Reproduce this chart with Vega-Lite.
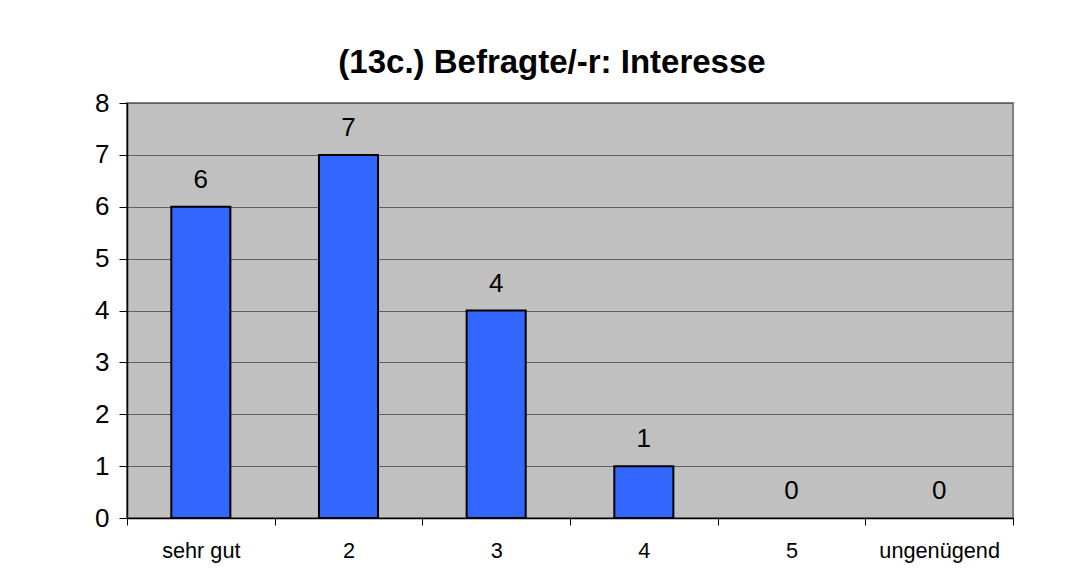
{
  "$schema": "https://vega.github.io/schema/vega-lite/v6.json",
  "autosize": {"type": "none"},
  "padding": {"left": 127, "top": 103, "right": 71, "bottom": 62},
  "width": 886,
  "height": 415,
  "background": "white",
  "title": {
    "text": "(13c.) Befragte/-r: Interesse",
    "font": "Liberation Sans",
    "fontSize": 33,
    "fontWeight": "bold",
    "color": "black",
    "anchor": "middle",
    "frame": "group",
    "dx": -18,
    "baseline": "alphabetic",
    "offset": -16
  },
  "data": {
    "values": [
      {"note": "sehr gut", "anzahl": 6},
      {"note": "2", "anzahl": 7},
      {"note": "3", "anzahl": 4},
      {"note": "4", "anzahl": 1},
      {"note": "5", "anzahl": 0},
      {"note": "ungenügend", "anzahl": 0}
    ]
  },
  "encoding": {
    "x": {
      "field": "note",
      "type": "nominal",
      "sort": null,
      "title": null,
      "scale": {"paddingInner": 0, "paddingOuter": 0},
      "axis": {
        "labelAngle": 0,
        "labelFont": "Liberation Sans",
        "labelFontSize": 21.7,
        "labelColor": "black",
        "labelPadding": 15,
        "tickBand": "extent",
        "tickSize": 7,
        "tickColor": "black",
        "domainColor": "black",
        "domainWidth": 1.5,
        "grid": false
      }
    },
    "y": {
      "field": "anzahl",
      "type": "quantitative",
      "title": null,
      "scale": {"domain": [0, 8], "nice": false},
      "axis": {
        "values": [0, 1, 2, 3, 4, 5, 6, 7, 8],
        "labelFont": "Liberation Sans",
        "labelFontSize": 26,
        "labelColor": "black",
        "labelPadding": 10,
        "tickSize": 8,
        "tickColor": "black",
        "domainColor": "black",
        "domainWidth": 1.5,
        "grid": true,
        "gridColor": "#606060",
        "gridWidth": 1.2,
        "gridOpacity": 1
      }
    }
  },
  "layer": [
    {
      "transform": [{"filter": "datum.anzahl > 0"}],
      "mark": {
        "type": "bar",
        "width": {"band": 0.4},
        "color": "#3366FF",
        "stroke": "black",
        "strokeWidth": 2
      }
    },
    {
      "mark": {
        "type": "text",
        "baseline": "alphabetic",
        "dy": -19,
        "font": "Liberation Sans",
        "fontSize": 26,
        "color": "black"
      },
      "encoding": {"text": {"field": "anzahl", "type": "quantitative"}}
    }
  ],
  "config": {
    "view": {"fill": "#C0C0C0", "stroke": "#808080", "strokeWidth": 2}
  }
}
